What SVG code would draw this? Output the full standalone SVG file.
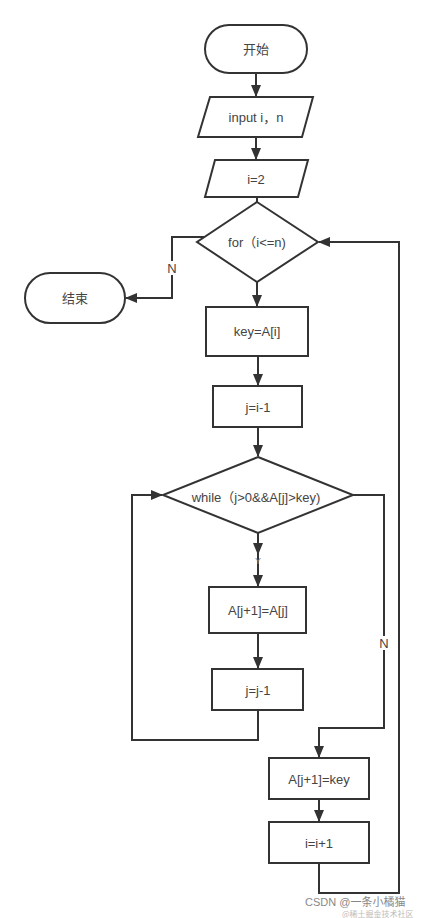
<svg xmlns="http://www.w3.org/2000/svg" width="424" height="918" viewBox="0 0 424 918">
<style>
.s{fill:#fff;stroke:#333;stroke-width:2}
.t{font-family:"Liberation Sans","Noto Sans CJK SC",sans-serif;font-size:13px;fill:#444;text-anchor:middle;dominant-baseline:central}
.c{fill:none;stroke:#333;stroke-width:2}
.lbl{font-family:"Liberation Sans",sans-serif;font-size:13px;fill:#444;text-anchor:middle;dominant-baseline:central}
</style>
<defs>
<marker id="a" viewBox="0 0 12 10" refX="11" refY="5" markerWidth="6" markerHeight="5" orient="auto" markerUnits="strokeWidth">
<path d="M0,0 L12,5 L0,10 z" fill="#333"/>
</marker>
</defs>
<rect width="424" height="918" fill="#fff"/>
<g id="connectors">
<line class="c" x1="256" y1="73" x2="256" y2="96" marker-end="url(#a)"/>
<line class="c" x1="256" y1="137" x2="256" y2="159" marker-end="url(#a)"/>
<line class="c" x1="257" y1="197" x2="257" y2="202"/>
<path class="c" d="M204,237 H172 V298 H126" marker-end="url(#a)"/>
<rect x="166" y="261" width="12" height="14" fill="#fff"/>
<text class="lbl" x="172" y="268">N</text>
<line class="c" x1="257" y1="282" x2="257" y2="306" marker-end="url(#a)"/>
<line class="c" x1="258" y1="356" x2="258" y2="385" marker-end="url(#a)"/>
<line class="c" x1="258" y1="427" x2="258" y2="456" marker-end="url(#a)"/>
<line class="c" x1="258" y1="533" x2="258" y2="554" marker-end="url(#a)"/>
<line class="c" x1="258" y1="554" x2="258" y2="586" marker-end="url(#a)"/>
<text x="258" y="561" font-family="Liberation Sans,sans-serif" font-size="9" fill="#888" text-anchor="middle" dominant-baseline="central">Y</text>
<line class="c" x1="258" y1="633" x2="258" y2="668" marker-end="url(#a)"/>
<path class="c" d="M258,710 V740 H132 V495 H162" marker-end="url(#a)"/>
<path class="c" d="M353,495 H384 V728 H319 V757" marker-end="url(#a)"/>
<rect x="378" y="636" width="12" height="14" fill="#fff"/>
<text class="lbl" x="384" y="643">N</text>
<line class="c" x1="319" y1="799" x2="319" y2="821" marker-end="url(#a)"/>
<path class="c" d="M319,863 V893 H399 V242 H319" marker-end="url(#a)"/>
</g>
<g id="start">
<rect class="s" x="205" y="25" width="102" height="48" rx="24"/>
<text class="t" x="256" y="49">开始</text>
</g>
<g id="input">
<polygon class="s" points="210,97 313,97 302,137 198,137"/>
<text class="t" x="256" y="117">input i，n</text>
</g>
<g id="init">
<polygon class="s" points="215,160 308,160 298,197 205,197"/>
<text class="t" x="256" y="179">i=2</text>
</g>
<g id="for">
<polygon class="s" points="257,202 318,242 257,282 197,242"/>
<text class="t" x="257" y="242">for（i&lt;=n)</text>
</g>
<g id="end">
<rect class="s" x="25" y="273" width="100" height="50" rx="25"/>
<text class="t" x="75" y="298">结束</text>
</g>
<g id="key">
<rect class="s" x="206" y="307" width="102" height="49"/>
<text class="t" x="257" y="331">key=A[i]</text>
</g>
<g id="jinit">
<rect class="s" x="213" y="386" width="89" height="41"/>
<text class="t" x="258" y="407">j=i-1</text>
</g>
<g id="while">
<polygon class="s" points="258,457 353,495 258,533 163,495"/>
<text class="t" x="256" y="497">while（j&gt;0&amp;&amp;A[j]&gt;key)</text>
</g>
<g id="shift">
<rect class="s" x="209" y="587" width="97" height="46"/>
<text class="t" x="258" y="610">A[j+1]=A[j]</text>
</g>
<g id="jdec">
<rect class="s" x="212" y="669" width="91" height="41"/>
<text class="t" x="258" y="690">j=j-1</text>
</g>
<g id="insert">
<rect class="s" x="269" y="758" width="100" height="41"/>
<text class="t" x="319" y="779">A[j+1]=key</text>
</g>
<g id="iinc">
<rect class="s" x="269" y="822" width="100" height="41"/>
<text class="t" x="319" y="843">i=i+1</text>
</g>
<g id="watermark">
<text x="305" y="902" font-family="Liberation Sans,Noto Sans CJK SC,sans-serif" font-size="11" fill="#888" dominant-baseline="central">CSDN @一条小橘猫</text>
<text x="342" y="913" font-family="Noto Sans CJK SC,sans-serif" font-size="8" fill="#bbb" dominant-baseline="central">@稀土掘金技术社区</text>
</g>
</svg>
